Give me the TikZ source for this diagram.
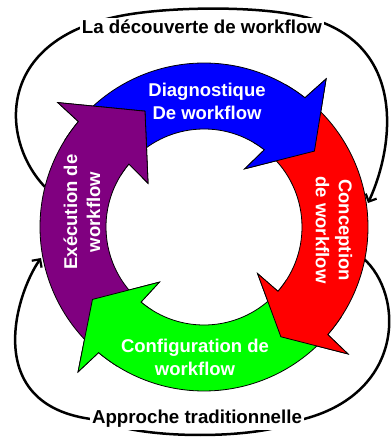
\documentclass[tikz,border=0pt]{standalone}
\usepackage{fontspec}
\setmainfont{Liberation Sans}
\usetikzlibrary{arrows.meta}
\definecolor{cblue}{RGB}{0,0,255}
\definecolor{cred}{RGB}{255,0,0}
\definecolor{cgreen}{RGB}{0,255,0}
\definecolor{cpurple}{RGB}{128,0,128}
\tikzset{
  ringarr/.style={draw=black, line width=0.8pt, line join=miter},
  lbl/.style={text=white, font=\fontsize{18.5}{23}\selectfont\bfseries, align=center, inner sep=0pt},
  ttl/.style={text=black, fill=white, font=\fontsize{18.7}{22}\selectfont\bfseries, inner sep=2pt},
  loop/.style={draw=black, line width=2.5pt},
  looparrow/.style={loop, -{Straight Barb[length=6pt,width=12pt,line width=2.2pt]}}
}
% #1 tail angle, #2 head base angle, #3 outer barb angle, #4 inner barb angle,
% #5 tip angle, #6 tip radius, #7 fill colour
\newcommand\ringpath[7]{%
  \filldraw[ringarr, fill=#7] (#1:164pt) arc[start angle=#1, end angle=#2, radius=164pt]
    -- (#3:192pt) -- (#5:#6pt) -- (#4:71pt) -- (#2:98pt)
    arc[start angle=#2, end angle=#1, radius=98pt] -- cycle;}
\newcommand\ringhead[7]{%
  \begin{scope}
    \clip (0,0) -- (#5-5:260pt) arc[start angle=#5-5, end angle=#2+8, radius=260pt] -- cycle;
    \ringpath{#1}{#2}{#3}{#4}{#5}{#6}{#7}
  \end{scope}}
\begin{document}
\begin{tikzpicture}[x=1pt,y=1pt]
\useasboundingbox (0,0) rectangle (391,437);
\fill[white] (0,0) rectangle (391,437);

% outer loops
\coordinate (tstart) at (45,250);
\coordinate (tend) at (368,234);
\coordinate (bstart) at (363,179);
\coordinate (bend) at (41,179);
\draw[looparrow] (tstart) .. controls (0,297) and (-5,397) .. (120,421)
  .. controls (165,430) and (245,431) .. (290,423)
  .. controls (410,404) and (395,292) .. (tend);
\draw[looparrow] (bstart) .. controls (405,142) and (405,42) .. (300,17)
  .. controls (260,-3) and (140,-3) .. (100,17)
  .. controls (-20,27) and (15,142) .. (bend);

\node[ttl] (top) at (202,410) {La découverte de workflow};
\node[ttl] (bot) at (197,18) {Approche traditionnelle};

% ring of arrows
\begin{scope}[shift={(204,210)}]
  \ringpath{135}{52}{50.5}{55}{34.5}{134}{cblue}
  \ringpath{48}{-41}{-41.4}{-41}{-55}{134}{cred}
  \ringpath{-45}{-130}{-131}{-129}{-147}{133}{cgreen}
  \ringpath{226}{140}{139.6}{142}{117}{130}{cpurple}
  \ringhead{135}{52}{50.5}{55}{34.5}{134}{cblue}
  \ringhead{48}{-41}{-41.4}{-41}{-55}{134}{cred}
  \ringhead{-45}{-130}{-131}{-129}{-147}{133}{cgreen}
  \ringhead{226}{140}{139.6}{142}{117}{130}{cpurple}
\end{scope}

\node[lbl] (diag) at (207,336) {Diagnostique\\De workflow};
\node[lbl, rotate=-90] (conc) at (334,207) {Conception\\de workflow};
\node[lbl] (conf) at (195,80) {Configuration de\\workflow};
\node[lbl, rotate=90] (exec) at (82,225) {Exécution de\\workflow};
\end{tikzpicture}
\end{document}
